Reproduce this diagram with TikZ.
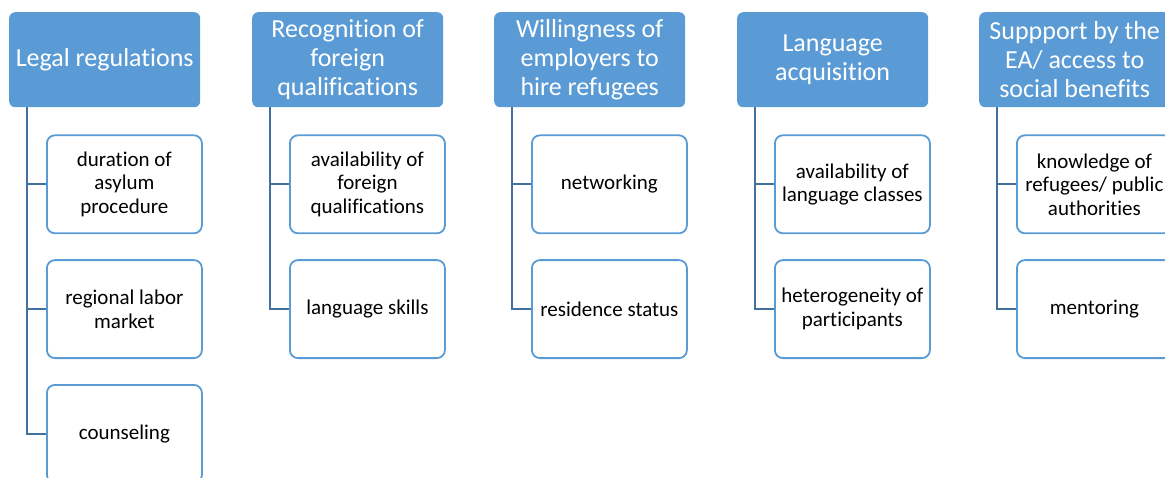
\documentclass[tikz,border=0pt]{standalone}
\usepackage{fontspec}
\setmainfont{Carlito}[Ligatures={NoCommon,NoContextual}]
\usetikzlibrary{positioning}
\definecolor{hdrblue}{HTML}{5B9BD5}
\definecolor{spineblue}{HTML}{41719C}

\begin{document}
\begin{tikzpicture}[x=1pt,y=-1pt,
  hdr/.style={rectangle,rounded corners=6pt,fill=hdrblue,text=white,
    minimum width=191pt,minimum height=95pt,inner sep=0pt,align=center,
    font=\fontsize{26}{29}\selectfont},
  item/.style={rectangle,rounded corners=8pt,draw=hdrblue,line width=1.8pt,
    fill=white,minimum width=155pt,minimum height=98pt,inner sep=0pt,
    align=center,font=\fontsize{21}{23.5}\selectfont},
  spine/.style={draw=spineblue,line width=2.2pt}]
  \useasboundingbox (0,0) rectangle (1165,477);
  \clip (0,0) rectangle (1165,477);

  % legal regulations
  \node[hdr,anchor=north west] (lr) at (9,12) {Legal regulations};
  \node[item,below right=27pt and 37pt of lr.south west] (lr1) {duration of\\asylum\\procedure};
  \node[item,below=25pt of lr1] (lr2) {regional labor\\market};
  \node[item,below=25pt of lr2] (lr3) {counseling};
  \draw[spine] ([xshift=18pt]lr.south west) |- (lr3.west);
  \draw[spine] ([xshift=18pt]lr.south west) |- (lr1.west);
  \draw[spine] ([xshift=18pt]lr.south west) |- (lr2.west);

  % recognition of qualifications
  \node[hdr,anchor=north west] (rq) at (252,12) {Recognition of\\foreign\\qualifications};
  \node[item,below right=27pt and 37pt of rq.south west] (rq1) {availability of\\foreign\\qualifications};
  \node[item,below=25pt of rq1] (rq2) {language skills};
  \draw[spine] ([xshift=18pt]rq.south west) |- (rq2.west);
  \draw[spine] ([xshift=18pt]rq.south west) |- (rq1.west);

  % employers
  \node[hdr,anchor=north west] (we) at (494,12) {Willingness of\\employers to\\hire refugees};
  \node[item,below right=27pt and 37pt of we.south west] (we1) {networking};
  \node[item,below=25pt of we1] (we2) {residence status};
  \draw[spine] ([xshift=18pt]we.south west) |- (we2.west);
  \draw[spine] ([xshift=18pt]we.south west) |- (we1.west);

  % language
  \node[hdr,anchor=north west] (la) at (737,12) {Language\\acquisition};
  \node[item,below right=27pt and 37pt of la.south west] (la1) {availability of\\language classes};
  \node[item,below=25pt of la1] (la2) {heterogeneity of\\participants};
  \draw[spine] ([xshift=18pt]la.south west) |- (la2.west);
  \draw[spine] ([xshift=18pt]la.south west) |- (la1.west);

  % support by the EA
  \node[hdr,anchor=north west] (ea) at (979,12) {Suppport by the\\EA/ access to\\social benefits};
  \node[item,below right=27pt and 37pt of ea.south west] (ea1) {knowledge of\\refugees/ public\\authorities};
  \node[item,below=25pt of ea1] (ea2) {mentoring};
  \draw[spine] ([xshift=18pt]ea.south west) |- (ea2.west);
  \draw[spine] ([xshift=18pt]ea.south west) |- (ea1.west);
\end{tikzpicture}
\end{document}
